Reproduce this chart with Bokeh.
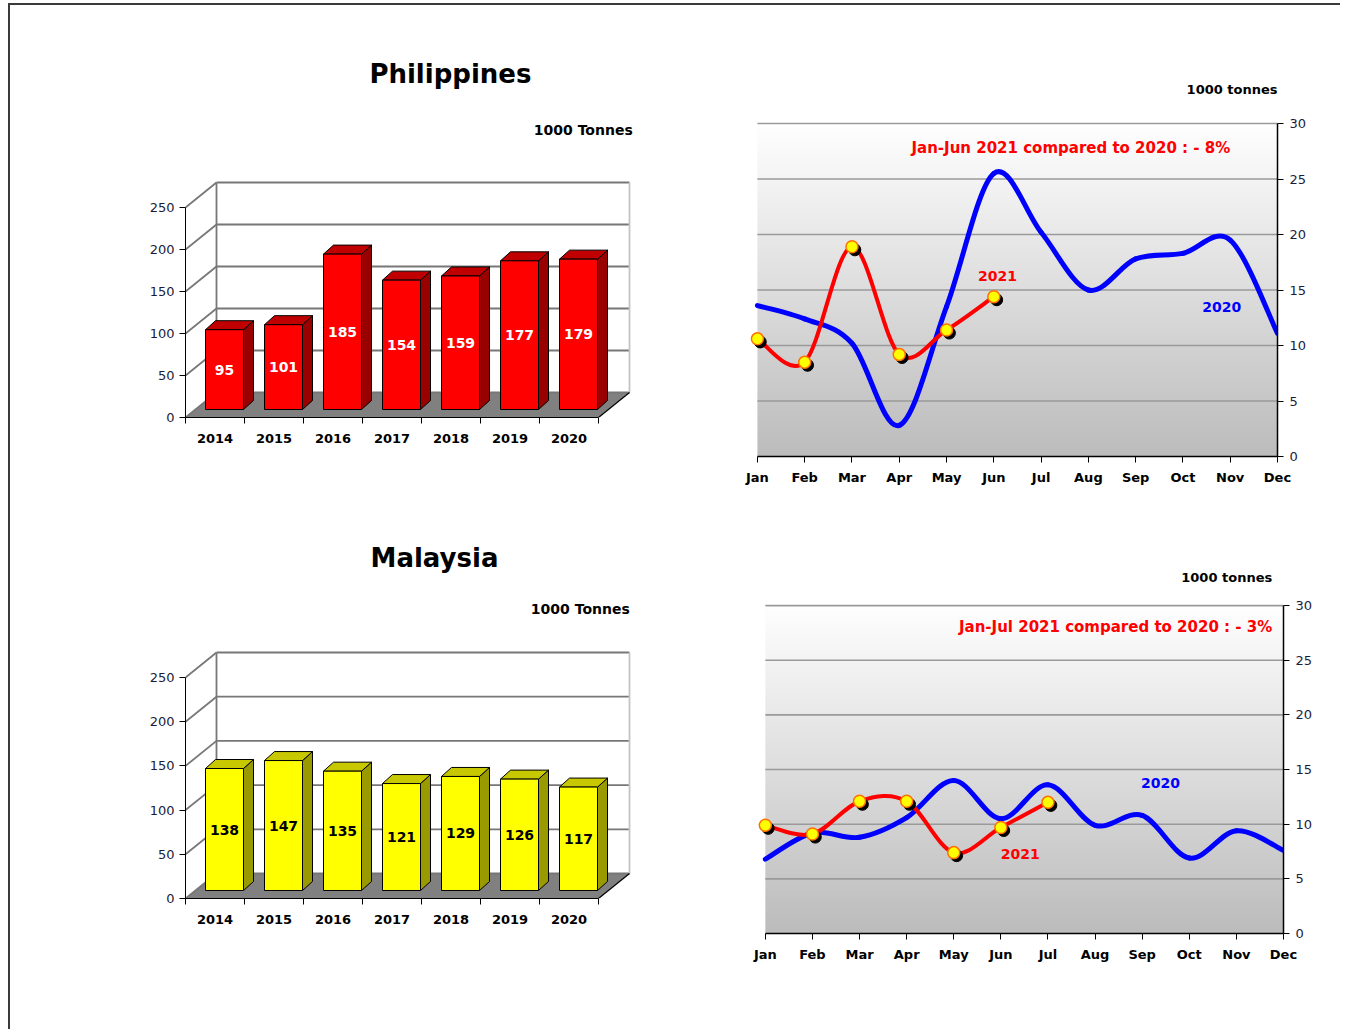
import numpy as np
from bokeh.plotting import figure
from bokeh.layouts import row, column
from bokeh.models import Range1d, FixedTicker, Label
from bokeh.core.properties import value
from bokeh.embed import file_html
from bokeh.resources import INLINE

FONT = "DejaVu Sans"

# ---------------- data ----------------
years = ["2014", "2015", "2016", "2017", "2018", "2019", "2020"]
ph_annual = [95, 101, 185, 154, 159, 177, 179]
my_annual = [138, 147, 135, 121, 129, 126, 117]
bar_ticks = [0, 50, 100, 150, 200, 250]

months = ["Jan", "Feb", "Mar", "Apr", "May", "Jun", "Jul", "Aug", "Sep", "Oct", "Nov", "Dec"]
ph_2020 = [13.6, 12.4, 10.2, 2.8, 13.5, 25.5, 20.2, 15.0, 17.8, 18.3, 19.5, 11.1]
ph_2021 = [10.6, 8.5, 18.9, 9.2, 11.4, 14.4]
my_2020 = [6.8, 9.2, 8.8, 10.6, 14.0, 10.5, 13.6, 9.9, 10.8, 6.9, 9.4, 7.6]
my_2021 = [9.9, 9.1, 12.1, 12.1, 7.4, 9.7, 12.0]
line_ticks = [0, 5, 10, 15, 20, 25, 30]


# ---------------- 3D bar chart ----------------
def bar_chart(vals, title, title_xy, unit_xy, width, height, mb, pxv,
              face, side, top, label_color):
    ml, mr, mt = 175, 5, 0
    pxc = 59.0
    fw, fh = width - ml - mr, height - mt - mb
    p = figure(width=width, height=height, output_backend="svg", toolbar_location=None,
               x_range=Range1d(0, fw / pxc), y_range=Range1d(0, fh / pxv),
               min_border_left=ml, min_border_right=mr, min_border_top=mt, min_border_bottom=mb,
               outline_line_color=None, background_fill_color="white", border_fill_color="white",
               frame_align=False)
    p.grid.visible = False
    n = len(vals)
    top_t = bar_ticks[-1]
    # depth of floor / walls (px -> data)
    DX, DY = 31 / pxc, 25 / pxv
    # floor
    p.patch([0, n, n + DX, DX], [0, 0, DY, DY], fill_color="#808080", line_color=None)
    # back wall and side-wall grid lines
    gx0, gy0, gx1, gy1 = [], [], [], []
    for t in bar_ticks:
        gx0 += [DX, 0]; gy0 += [t + DY, t]; gx1 += [n + DX, DX]; gy1 += [t + DY, t + DY]
    gx0 += [DX]; gy0 += [DY]; gx1 += [DX]; gy1 += [top_t + DY]
    p.segment(x0=gx0, y0=gy0, x1=gx1, y1=gy1, line_color="#777777", line_width=1.8)
    # right edge of back wall (light)
    p.segment(x0=[n + DX], y0=[DY], x1=[n + DX], y1=[top_t + DY], line_color="#c4c4c4", line_width=1.8)
    p.segment(x0=[n], y0=[0], x1=[n + DX], y1=[DY], line_color="black", line_width=1.2)

    # bars
    BX, BY = 9 / pxc, 8 / pxv
    inset, bw = 11 / pxc, 38 / pxc
    SX, SY = 10 / pxc, 9 / pxv
    xs_f, ys_f, xs_s, ys_s, xs_t, ys_t, lx, ly = [], [], [], [], [], [], [], []
    for i, v in enumerate(vals):
        l = i + inset + BX
        r = l + bw
        b = BY
        tp = v + BY
        xs_f.append([l, r, r, l]); ys_f.append([b, b, tp, tp])
        xs_s.append([r, r + SX, r + SX, r]); ys_s.append([b, b + SY, tp + SY, tp])
        xs_t.append([l, r, r + SX, l + SX]); ys_t.append([tp, tp, tp + SY, tp + SY])
        lx.append((l + r) / 2); ly.append(BY + v / 2)
    p.patches(xs_s, ys_s, fill_color=side, line_color="black", line_width=1)
    p.patches(xs_t, ys_t, fill_color=top, line_color="black", line_width=1)
    p.patches(xs_f, ys_f, fill_color=face, line_color="black", line_width=1)
    p.text(x=lx, y=ly, text=[str(v) for v in vals], text_align="center", text_baseline="middle",
           text_font=value(FONT), text_font_size="14px", text_font_style="bold", text_color=label_color)

    # axes
    p.yaxis.bounds = (0, top_t)
    p.yaxis.ticker = FixedTicker(ticks=bar_ticks)
    p.yaxis.major_tick_in = 0
    p.yaxis.major_tick_out = 6
    p.yaxis.minor_tick_line_color = None
    p.yaxis.axis_line_color = "black"
    p.yaxis.major_label_text_font = FONT
    p.yaxis.major_label_text_font_size = "13px"
    p.yaxis.major_label_text_color = "#1c1c3a"
    p.yaxis.major_label_standoff = 5

    centers = [i + 0.5 for i in range(n)]
    p.xaxis.bounds = (0, n)
    p.xaxis.ticker = FixedTicker(ticks=centers, minor_ticks=list(range(n + 1)))
    p.xaxis.major_label_overrides = {c: y for c, y in zip(centers, years)}
    p.xaxis.major_tick_line_color = None
    p.xaxis.minor_tick_in = 0
    p.xaxis.minor_tick_out = 6
    p.xaxis.minor_tick_line_color = "black"
    p.xaxis.axis_line_color = "black"
    p.xaxis.major_label_text_font = FONT
    p.xaxis.major_label_text_font_size = "13px"
    p.xaxis.major_label_text_font_style = "bold"
    p.xaxis.major_label_text_color = "black"
    p.xaxis.major_label_standoff = 10

    p.add_layout(Label(x=title_xy[0], y=title_xy[1], text=title, text_align="center",
                       text_baseline="middle", text_font=FONT, text_font_size="26px",
                       text_font_style="bold", text_color="black"))
    p.add_layout(Label(x=unit_xy[0], y=unit_xy[1], text="1000 Tonnes", text_align="right",
                       text_baseline="middle", text_font=FONT, text_font_size="14px",
                       text_font_style="bold", text_color="black"))
    return p


# ---------------- smoothed line chart ----------------
def bezier_parts(ys):
    xs = list(range(len(ys)))
    P = list(zip(xs, ys))
    n = len(P)
    out = {k: [] for k in ["x0", "y0", "x1", "y1", "cx0", "cy0", "cx1", "cy1"]}
    for i in range(n - 1):
        pm = P[i - 1] if i > 0 else P[i]
        a, b = P[i], P[i + 1]
        pn = P[i + 2] if i + 2 < n else P[i + 1]
        out["x0"].append(a[0]); out["y0"].append(a[1])
        out["x1"].append(b[0]); out["y1"].append(b[1])
        out["cx0"].append(a[0] + (b[0] - pm[0]) / 6); out["cy0"].append(a[1] + (b[1] - pm[1]) / 6)
        out["cx1"].append(b[0] - (pn[0] - a[0]) / 6); out["cy1"].append(b[1] - (pn[1] - a[1]) / 6)
    return out


def line_chart(v2020, v2021, width, height, ml, mr, mt, mb, pxv, note, note_xy, unit_xy,
               l2021_xy, l2020_xy):
    fh = height - mt - mb
    x0 = -0.4
    p = figure(width=width, height=height, output_backend="svg", toolbar_location=None,
               x_range=Range1d(x0, 11), y_range=Range1d(0, fh / pxv), y_axis_location="right",
               min_border_left=ml, min_border_right=mr, min_border_top=mt, min_border_bottom=mb,
               outline_line_color=None, background_fill_color="white", border_fill_color="white",
               frame_align=False)
    p.grid.visible = False
    top_t = line_ticks[-1]
    # gradient plot area
    H = 200
    g = np.linspace(0xbc, 0xff, H).astype(np.uint8)
    img = np.empty((H, 1), dtype=np.uint32)
    view = img.view(dtype=np.uint8).reshape((H, 1, 4))
    view[:, 0, 0] = g; view[:, 0, 1] = g; view[:, 0, 2] = g; view[:, 0, 3] = 255
    p.image_rgba(image=[img], x=0, y=0, dw=11, dh=top_t)
    # grid lines
    gt = line_ticks[1:]
    p.segment(x0=[0] * len(gt), y0=gt, x1=[11] * len(gt), y1=gt, line_color="#9a9a9a", line_width=1.6)

    b20 = bezier_parts(v2020)
    p.bezier(**b20, line_color="#0000ff", line_width=5, line_cap="round")
    b21 = bezier_parts(v2021)
    p.bezier(**b21, line_color="#ff0000", line_width=4, line_cap="round")
    xs = list(range(len(v2021)))
    p.scatter([x + 0.06 for x in xs], [y - 0.28 for y in v2021], size=12, marker="circle",
              fill_color="black", line_color="black")
    p.scatter(xs, v2021, size=12, marker="circle", fill_color="#ffff00", line_color="#ff7000",
              line_width=1.5)

    p.yaxis.bounds = (0, top_t)
    p.yaxis.ticker = FixedTicker(ticks=line_ticks)
    p.yaxis.major_tick_in = 0
    p.yaxis.major_tick_out = 6
    p.yaxis.minor_tick_line_color = None
    p.yaxis.axis_line_color = "black"
    p.yaxis.axis_line_width = 1.5
    p.yaxis.major_label_text_font = FONT
    p.yaxis.major_label_text_font_size = "13px"
    p.yaxis.major_label_text_color = "#1c1c3a"
    p.yaxis.major_label_standoff = 6

    p.xaxis.bounds = (0, 11)
    p.xaxis.ticker = FixedTicker(ticks=list(range(12)))
    p.xaxis.major_label_overrides = {i: m for i, m in enumerate(months)}
    p.xaxis.major_tick_in = 0
    p.xaxis.major_tick_out = 6
    p.xaxis.minor_tick_line_color = None
    p.xaxis.axis_line_color = "black"
    p.xaxis.axis_line_width = 1.5
    p.xaxis.major_label_text_font = FONT
    p.xaxis.major_label_text_font_size = "13px"
    p.xaxis.major_label_text_font_style = "bold"
    p.xaxis.major_label_text_color = "black"
    p.xaxis.major_label_standoff = 7

    p.add_layout(Label(x=unit_xy[0], y=unit_xy[1], text="1000 tonnes", text_align="right",
                       text_baseline="middle", text_font=FONT, text_font_size="13px",
                       text_font_style="bold", text_color="black"))
    p.add_layout(Label(x=note_xy[0], y=note_xy[1], text=note, text_align="right",
                       text_baseline="middle", text_font=FONT, text_font_size="15px",
                       text_font_style="bold", text_color="#ff0000"))
    p.add_layout(Label(x=l2021_xy[0], y=l2021_xy[1], text="2021", text_align="center",
                       text_baseline="middle", text_font=FONT, text_font_size="14px",
                       text_font_style="bold", text_color="#ff0000"))
    p.add_layout(Label(x=l2020_xy[0], y=l2020_xy[1], text="2020", text_align="center",
                       text_baseline="middle", text_font=FONT, text_font_size="14px",
                       text_font_style="bold", text_color="#0000ff"))
    return p


p1 = bar_chart(ph_annual, "Philippines", (4.49, 409.5), (7.58, 341.7), 690, 515, 103, 0.84,
               "#ff0000", "#990000", "#c00000", "white")
p3 = bar_chart(my_annual, "Malaysia", (4.22, 385.7), (7.53, 328.0), 690, 509, 131, 0.884,
               "#ffff00", "#999900", "#c8c800", "black")

p2 = line_chart(ph_2020, ph_2021, 640, 515, 38, 63, 40, 64, 11.1,
                "Jan-Jun 2021 compared to 2020 : - 8%", (10.0, 27.8), (11.0, 33.06),
                (5.08, 16.3), (9.82, 13.5))
p4 = line_chart(my_2020, my_2021, 640, 509, 46, 57, 20, 96, 10.93,
                "Jan-Jul 2021 compared to 2020 : - 3%", (10.76, 28.0), (10.76, 32.57),
                (5.41, 7.3), (8.39, 13.8))

layout = column(row(p1, p2), row(p3, p4),
                styles={"border-top": "2px solid #3a3a3a", "border-left": "2px solid #3a3a3a",
                        "margin-left": "8px", "margin-top": "3px"})

open("out.html", "w").write(file_html(layout, INLINE))
